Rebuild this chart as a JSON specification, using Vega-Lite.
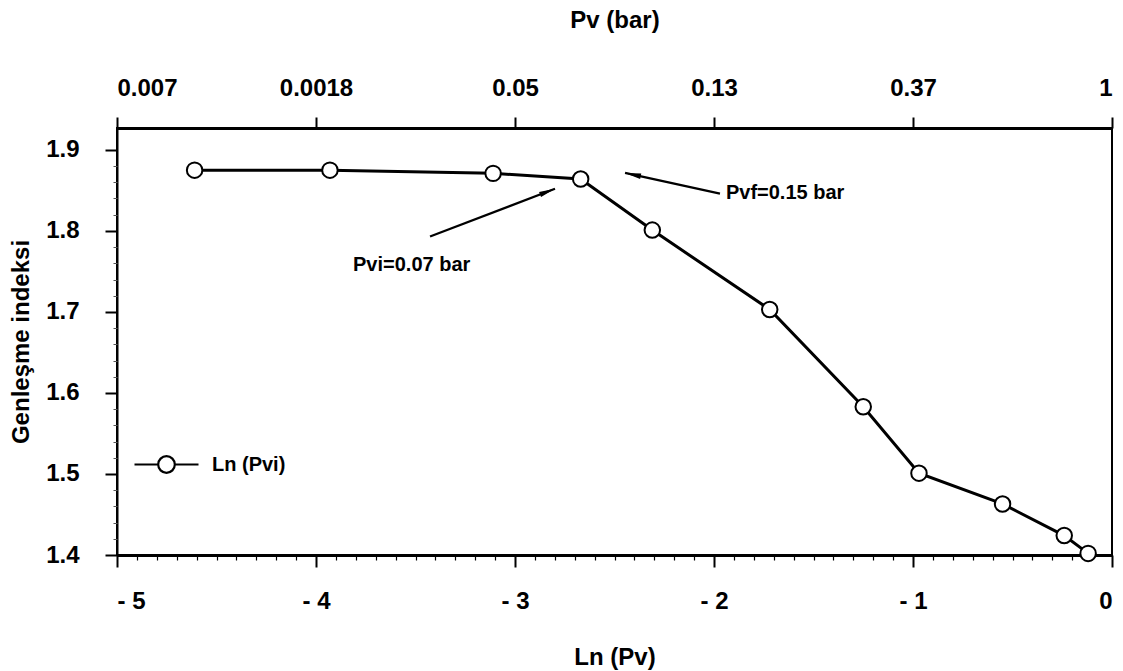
{
  "$schema": "https://vega.github.io/schema/vega-lite/v6.json",
  "width": 995,
  "height": 427,
  "autosize": "none",
  "padding": {"left": 117, "top": 128, "right": 11, "bottom": 116},
  "background": "white",
  "config": {
    "view": {"stroke": "black", "strokeWidth": 2},
    "font": "Liberation Sans",
    "axis": {"labelFont": "Liberation Sans", "titleFont": "Liberation Sans", "labelColor": "black", "titleColor": "black", "tickColor": "black", "domainColor": "black", "grid": false}
  },
  "datasets": {
    "main": [
      {"lnpv": -4.61, "gi": 1.875, "series": "Ln (Pvi)"},
      {"lnpv": -3.93, "gi": 1.875, "series": "Ln (Pvi)"},
      {"lnpv": -3.11, "gi": 1.871, "series": "Ln (Pvi)"},
      {"lnpv": -2.67, "gi": 1.864, "series": "Ln (Pvi)"},
      {"lnpv": -2.31, "gi": 1.801, "series": "Ln (Pvi)"},
      {"lnpv": -1.72, "gi": 1.703, "series": "Ln (Pvi)"},
      {"lnpv": -1.25, "gi": 1.583, "series": "Ln (Pvi)"},
      {"lnpv": -0.97, "gi": 1.501, "series": "Ln (Pvi)"},
      {"lnpv": -0.55, "gi": 1.463, "series": "Ln (Pvi)"},
      {"lnpv": -0.24, "gi": 1.424, "series": "Ln (Pvi)"},
      {"lnpv": -0.12, "gi": 1.402, "series": "Ln (Pvi)"}
    ],
    "arrows": [
      {"name": "pvf", "x1": -1.97, "y1": 1.846, "x2": -2.447, "y2": 1.8716},
      {"name": "pvi", "x1": -3.427, "y1": 1.793, "x2": -2.799, "y2": 1.852}
    ],
    "labels": [
      {"label": "Pvf=0.15 bar", "x": -1.94, "y": 1.847},
      {"label": "Pvi=0.07 bar", "x": -3.814, "y": 1.758}
    ]
  },
  "resolve": {"axis": {"x": "independent", "y": "independent"}},
  "layer": [
    {
      "data": {"name": "main"},
      "mark": {"type": "line", "strokeWidth": 3},
      "encoding": {
        "x": {
          "field": "lnpv", "type": "quantitative",
          "scale": {"domain": [-5, 0], "nice": false, "zero": false},
          "axis": {
            "orient": "bottom", "values": [-5, -4, -3, -2, -1, 0],
            "labelExpr": "datum.value < 0 ? '- ' + abs(datum.value) : '0'",
            "tickSize": 12, "tickWidth": 2, "domainWidth": 3,
            "labelFontSize": 24, "labelFontWeight": "bold", "labelPadding": 22,
            "title": "Ln (Pv)", "titleFontSize": 24, "titleFontWeight": "bold", "titlePadding": 32
          }
        },
        "y": {
          "field": "gi", "type": "quantitative",
          "scale": {"domain": [1.4, 1.927], "nice": false, "zero": false},
          "axis": {
            "orient": "left", "values": [1.4, 1.5, 1.6, 1.7, 1.8, 1.9], "format": ".1f",
            "tickSize": 12, "tickWidth": 2, "domainWidth": 2,
            "labelFontSize": 24, "labelFontWeight": "bold", "labelPadding": 26,
            "title": "Genleşme indeksi", "titleFontSize": 24, "titleFontWeight": "bold", "titlePadding": 12
          }
        },
        "color": {
          "field": "series", "type": "nominal",
          "scale": {"range": ["black"]},
          "legend": {
            "orient": "none", "legendX": 16, "legendY": 303, "title": null, "padding": 0,
            "symbolType": "M-1,0 L-0.26,0 M0.26,0 L1,0 M-0.26,0 A0.26,0.26 0 1,0 0.26,0 A0.26,0.26 0 1,0 -0.26,0 Z",
            "symbolSize": 4096, "symbolStrokeWidth": 2, "symbolFillColor": "white", "symbolStrokeColor": "black",
            "labelFontSize": 20, "labelFontWeight": "bold", "labelColor": "black", "labelOffset": 12,
            "encode": {"symbols": {"update": {"fill": {"value": "white"}, "stroke": {"value": "black"}, "strokeWidth": {"value": 2.2}}}}
          }
        }
      }
    },
    {
      "data": {"name": "main"},
      "mark": {"type": "point", "shape": "circle", "filled": true, "fill": "white", "stroke": "black", "strokeWidth": 2, "size": 240, "opacity": 1},
      "encoding": {
        "x": {
          "field": "lnpv", "type": "quantitative",
          "axis": {
            "orient": "bottom", "values": [-4.9, -4.8, -4.7, -4.6, -4.5, -4.4, -4.3, -4.2, -4.1, -3.9, -3.8, -3.7, -3.6, -3.5, -3.4, -3.3, -3.2, -3.1, -2.9, -2.8, -2.7, -2.6, -2.5, -2.4, -2.3, -2.2, -2.1, -1.9, -1.8, -1.7, -1.6, -1.5, -1.4, -1.3, -1.2, -1.1, -0.9, -0.8, -0.7, -0.6, -0.5, -0.4, -0.3, -0.2, -0.1],
            "tickSize": 5, "tickWidth": 1.2, "labels": false, "domain": false, "title": null
          }
        },
        "y": {
          "field": "gi", "type": "quantitative",
          "axis": {
            "orient": "left",
            "values": [1.42, 1.44, 1.46, 1.48, 1.52, 1.54, 1.56, 1.58, 1.62, 1.64, 1.66, 1.68, 1.72, 1.74, 1.76, 1.78, 1.82, 1.84, 1.86, 1.88],
            "tickSize": 4, "tickWidth": 1, "tickColor": "#555", "labels": false, "domain": false, "title": null
          }
        }
      }
    },
    {
      "data": {"name": "arrows"},
      "mark": {"type": "rule", "strokeWidth": 2.2, "color": "black"},
      "encoding": {
        "x": {
          "field": "x1", "type": "quantitative",
          "axis": {
            "orient": "top", "values": [-5, -4, -3, -2, -1, 0],
            "labelExpr": "datum.value == -5 ? '0.007' : datum.value == -4 ? '0.0018' : datum.value == -3 ? '0.05' : datum.value == -2 ? '0.13' : datum.value == -1 ? '0.37' : '1'",
            "tickSize": 11, "tickWidth": 2, "domainWidth": 3,
            "labelFontSize": 24, "labelFontWeight": "bold", "labelPadding": 17,
            "title": "Pv (bar)", "titleFontSize": 24, "titleFontWeight": "bold", "titlePadding": 44
          }
        },
        "x2": {"field": "x2"},
        "y": {"field": "y1", "type": "quantitative", "axis": null},
        "y2": {"field": "y2"}
      }
    },
    {
      "data": {"name": "arrows"},
      "transform": [{"filter": "datum.name == 'pvf'"}],
      "mark": {"type": "point", "shape": "M0,0 L0.35,2 L-0.35,2 Z", "filled": true, "color": "black", "size": 256, "angle": 282, "opacity": 1},
      "encoding": {
        "x": {"field": "x2", "type": "quantitative", "axis": null},
        "y": {"field": "y2", "type": "quantitative", "axis": null}
      }
    },
    {
      "data": {"name": "arrows"},
      "transform": [{"filter": "datum.name == 'pvi'"}],
      "mark": {"type": "point", "shape": "M0,0 L0.35,2 L-0.35,2 Z", "filled": true, "color": "black", "size": 256, "angle": 69, "opacity": 1},
      "encoding": {
        "x": {"field": "x2", "type": "quantitative", "axis": null},
        "y": {"field": "y2", "type": "quantitative", "axis": null}
      }
    },
    {
      "data": {"name": "labels"},
      "mark": {"type": "text", "align": "left", "baseline": "middle", "fontSize": 20, "fontWeight": "bold", "font": "Liberation Sans", "color": "black"},
      "encoding": {
        "x": {"field": "x", "type": "quantitative", "axis": null},
        "y": {"field": "y", "type": "quantitative", "axis": null},
        "text": {"field": "label"}
      }
    }
  ]
}
